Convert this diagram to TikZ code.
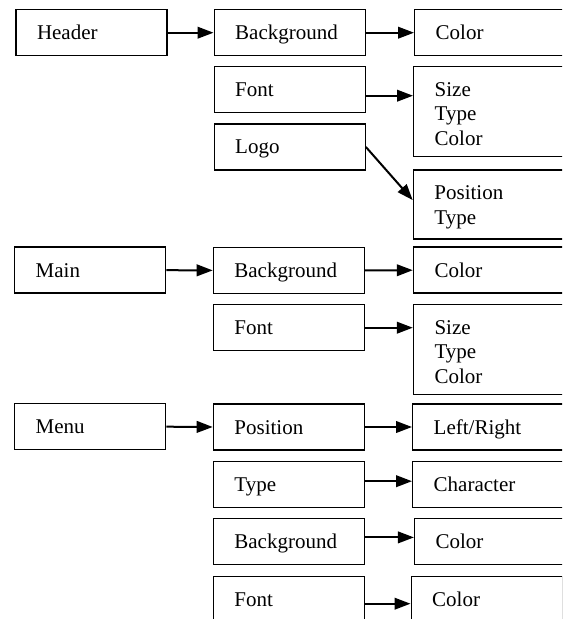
\documentclass[tikz,border=0pt]{standalone}
\usepackage{fontspec}
\setmainfont{Liberation Serif}
\usetikzlibrary{arrows.meta}
\tikzset{
      itembox/.style={
        draw=black,
        line width=0.7pt,
        anchor=north west,
        text width=54.5pt,
        align=left,
        inner xsep=10.5pt,
        inner ysep=0pt,
        text height=15pt,
        text depth=8pt,
        font=\fontsize{10.5pt}{12.1pt}\selectfont
      },
      tallbox/.style={itembox, text depth=30pt},
      midbox/.style={itembox, text depth=19.5pt},
      linkarrow/.style={
        line width=1pt,
        -{Triangle[length=8pt,width=5.8pt]}
      }
    }

\begin{document}
\begin{tikzpicture}[x=0.5pt,y=-0.5pt]
    \useasboundingbox (0,0) rectangle (562,619);
    \clip (0,0) rectangle (562,619);
    \node[itembox] (header) at (15.3,9) {Header};
    \node[itembox] (headerbg) at (213.5,9) {Background};
    \node[itembox] (headerbgcol) at (414,9) {Color};
    \node[itembox] (headerfont) at (213.5,66) {Font};
    \node[tallbox] (headerfontopt) at (413,66) {Size\\Type\\Color};
    \node[itembox] (headerlogo) at (213.5,123.3) {Logo};
    \node[midbox] (headerlogoopt) at (412.7,169.3) {Position\\Type};
    \node[itembox] (main) at (14,246.5) {Main};
    \node[itembox] (mainbg) at (212.7,246.7) {Background};
    \node[itembox] (mainbgcol) at (412.8,246.5) {Color};
    \node[itembox] (mainfont) at (212.7,304) {Font};
    \node[tallbox] (mainfontopt) at (412.8,304) {Size\\Type\\Color};
    \node[itembox] (menu) at (14,403) {Menu};
    \node[itembox] (menupos) at (212.7,403.3) {Position};
    \node[itembox] (menuposopt) at (412,403.3) {Left/Right};
    \node[itembox] (menutype) at (212.7,460.5) {Type};
    \node[itembox] (menutypeopt) at (412,460.5) {Character};
    \node[itembox] (menubg) at (212.7,517.7) {Background};
    \node[itembox] (menubgcol) at (413.9,517.7) {Color};
    \node[itembox] (menufont) at (212.7,576) {Font};
    \node[itembox] (menufontcol) at (410.5,576) {Color};
    \draw[linkarrow] (header.east) -- (headerbg.west);
    \draw[linkarrow] (headerbg.east) -- (headerbgcol.west);
    \draw[linkarrow] ([yshift=-3pt]headerfont.east) -- ([yshift=-3pt]headerfont.east -| headerfontopt.west);
    \draw[linkarrow] (headerlogo.east) -- ([yshift=2.2pt]headerlogoopt.west);
    \draw[linkarrow] (main.east) -- (mainbg.west);
    \draw[linkarrow] (mainbg.east) -- (mainbgcol.west);
    \draw[linkarrow] (mainfont.east) -- (mainfont.east -| mainfontopt.west);
    \draw[linkarrow] (menu.east) -- (menupos.west);
    \draw[linkarrow] (menupos.east) -- (menuposopt.west);
    \draw[linkarrow] ([yshift=1.5pt]menutype.east) -- ([yshift=1.5pt]menutypeopt.west);
    \draw[linkarrow] ([yshift=2pt]menubg.east) -- ([yshift=2pt]menubgcol.west);
    \draw[linkarrow] ([yshift=-2pt]menufont.east) -- ([yshift=-2pt]menufontcol.west);
\end{tikzpicture}
\end{document}
